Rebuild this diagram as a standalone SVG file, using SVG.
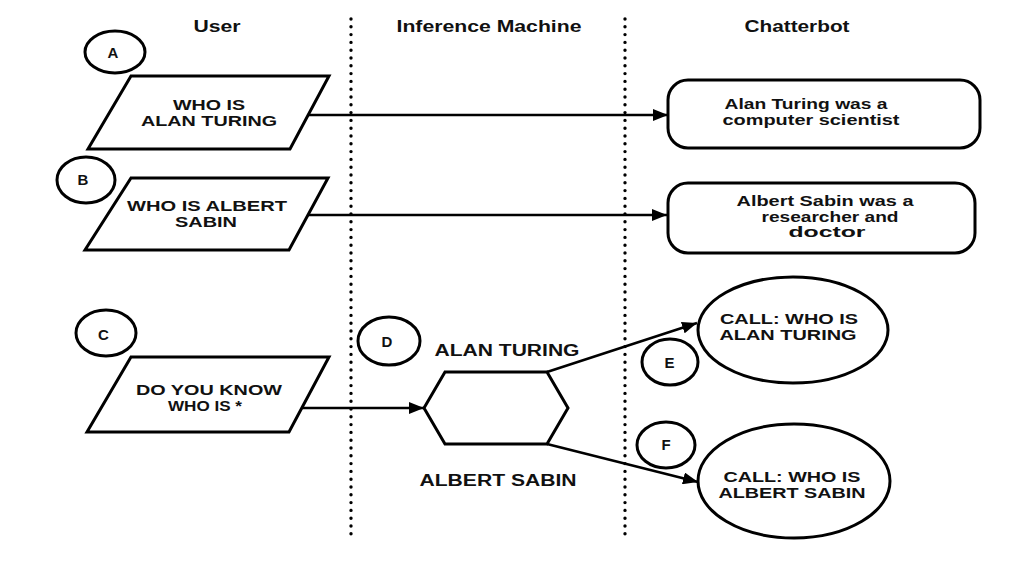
<svg xmlns="http://www.w3.org/2000/svg" width="1017" height="571" viewBox="0 0 1017 571">
<defs>
<style>
.s{fill:#fff;stroke:#000;stroke-width:3;stroke-linejoin:miter}
.t{font-family:"Liberation Sans",Arial,sans-serif;font-weight:bold;font-size:15px;fill:#111;text-anchor:middle}
.h{font-size:16px}
.c{fill:none;stroke:#000;stroke-width:2.5}
.dot{fill:none;stroke:#000;stroke-width:3.4;stroke-linecap:round;stroke-dasharray:0 7.8}
</style>
<marker id="ah" markerUnits="userSpaceOnUse" markerWidth="16" markerHeight="12" refX="15" refY="6" orient="auto">
<path d="M0,0 L15,6 L0,12 Z" fill="#000"/>
</marker>
</defs>
<rect width="1017" height="571" fill="#fff"/>
<g id="headers">
<text class="t h" x="217" y="32" textLength="47" lengthAdjust="spacingAndGlyphs">User</text>
<text class="t h" x="489" y="32" textLength="185" lengthAdjust="spacingAndGlyphs">Inference Machine</text>
<text class="t h" x="797" y="32" textLength="105" lengthAdjust="spacingAndGlyphs">Chatterbot</text>
</g>
<g id="lanes">
<line class="dot" x1="351" y1="19" x2="351" y2="535"/>
<line class="dot" x1="625" y1="19" x2="625" y2="535"/>
</g>
<g id="connectors">
<line class="c" x1="308" y1="115" x2="668" y2="115" marker-end="url(#ah)"/>
<line class="c" x1="308" y1="215" x2="667" y2="215" marker-end="url(#ah)"/>
<line class="c" x1="301" y1="408" x2="424" y2="408" marker-end="url(#ah)"/>
<line class="c" x1="547" y1="372" x2="697" y2="323" marker-end="url(#ah)"/>
<line class="c" x1="547" y1="444" x2="698" y2="482" marker-end="url(#ah)"/>
</g>
<g id="labelA">
<ellipse class="s" cx="115" cy="52" rx="30" ry="21"/>
<text class="t" x="113" y="57.5">A</text>
</g>
<g id="inputA">
<polygon class="s" points="131,76 329,76 290,149 88,149"/>
<text class="t" x="209" y="110" textLength="72" lengthAdjust="spacingAndGlyphs">WHO IS</text>
<text class="t" x="209" y="126" textLength="136" lengthAdjust="spacingAndGlyphs">ALAN TURING</text>
</g>
<g id="labelB">
<ellipse class="s" cx="86" cy="180" rx="29" ry="23"/>
<text class="t" x="83" y="185">B</text>
</g>
<g id="inputB">
<polygon class="s" points="131,178 328,178 289,250 85,250"/>
<text class="t" x="207" y="210.5" textLength="160" lengthAdjust="spacingAndGlyphs">WHO IS ALBERT</text>
<text class="t" x="206" y="226.5" textLength="62" lengthAdjust="spacingAndGlyphs">SABIN</text>
</g>
<g id="replyA">
<rect class="s" x="668" y="80" width="312" height="68" rx="20" ry="20"/>
<text class="t" x="806" y="108.5" textLength="163" lengthAdjust="spacingAndGlyphs">Alan Turing was a</text>
<text class="t" x="811" y="124.5" textLength="177" lengthAdjust="spacingAndGlyphs">computer scientist</text>
</g>
<g id="replyB">
<rect class="s" x="668" y="183" width="307" height="70" rx="20" ry="20"/>
<text class="t" x="825" y="206" textLength="177" lengthAdjust="spacingAndGlyphs">Albert Sabin was a</text>
<text class="t" x="830" y="221.5" textLength="137" lengthAdjust="spacingAndGlyphs">researcher and</text>
<text class="t" x="827" y="237" textLength="77" lengthAdjust="spacingAndGlyphs">doctor</text>
</g>
<g id="labelC">
<ellipse class="s" cx="106" cy="333" rx="30" ry="23"/>
<text class="t" x="103.5" y="339.5">C</text>
</g>
<g id="inputC">
<polygon class="s" points="131,357 329,357 289,432 87,432"/>
<text class="t" x="209" y="394.5" textLength="146" lengthAdjust="spacingAndGlyphs">DO YOU KNOW</text>
<text class="t" x="205" y="410.5" textLength="74" lengthAdjust="spacingAndGlyphs">WHO IS *</text>
</g>
<g id="labelD">
<ellipse class="s" cx="389" cy="341" rx="31" ry="24"/>
<text class="t" x="387" y="347">D</text>
</g>
<g id="inference">
<polygon class="s" points="445,372 547,372 568,408 547,444 445,444 424,408"/>
<text class="t h" x="507" y="356" textLength="145" lengthAdjust="spacingAndGlyphs">ALAN TURING</text>
<text class="t h" x="498" y="486" textLength="157" lengthAdjust="spacingAndGlyphs">ALBERT SABIN</text>
</g>
<g id="callA">
<ellipse class="s" cx="793" cy="330" rx="95" ry="53"/>
<text class="t" x="789" y="324" textLength="138" lengthAdjust="spacingAndGlyphs">CALL: WHO IS</text>
<text class="t" x="788" y="339.5" textLength="137" lengthAdjust="spacingAndGlyphs">ALAN TURING</text>
</g>
<g id="labelE">
<ellipse class="s" cx="670" cy="362" rx="28" ry="23"/>
<text class="t" x="669.5" y="368">E</text>
</g>
<g id="labelF">
<ellipse class="s" cx="666" cy="445" rx="29" ry="23"/>
<text class="t" x="666" y="449.5">F</text>
</g>
<g id="callB">
<ellipse class="s" cx="794" cy="481" rx="96" ry="57"/>
<text class="t" x="792" y="482" textLength="137" lengthAdjust="spacingAndGlyphs">CALL: WHO IS</text>
<text class="t" x="792" y="497.5" textLength="147" lengthAdjust="spacingAndGlyphs">ALBERT SABIN</text>
</g>
</svg>
